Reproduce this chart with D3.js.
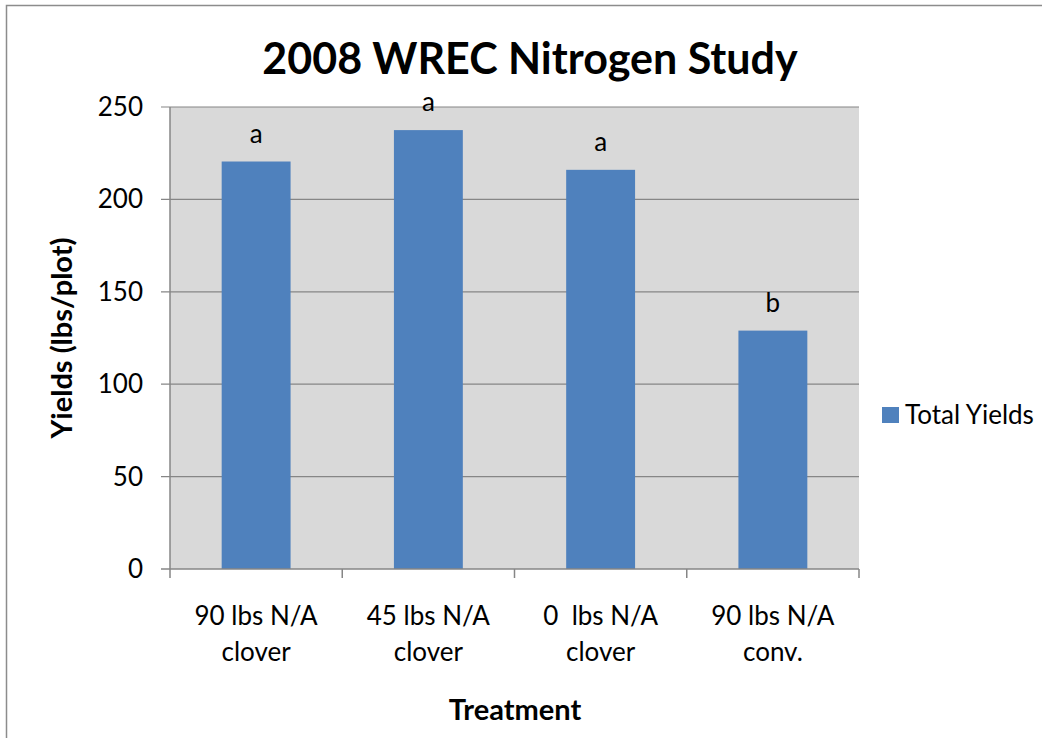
<!DOCTYPE html>
<html>
<head>
<meta charset="utf-8">
<script src="https://cdn.jsdelivr.net/npm/d3@7"></script>
<style>
  body { margin: 0; background: #fff; }
  text { font-family: Lato, "Open Sans", sans-serif; fill: #000; white-space: pre; }
</style>
</head>
<body>
<svg id="chart" width="1042" height="738"></svg>
<script>
// data
var categories = [["90 lbs N/A", "clover"], ["45 lbs N/A", "clover"], ["0  lbs N/A", "clover"], ["90 lbs N/A", "conv."]];
var yields = [220.5, 237.5, 216, 129];
var letters = ["a", "a", "a", "b"];
var yTicks = [0, 50, 100, 150, 200, 250];

var svg = d3.select('#chart');
var plotLeft = 170, plotRight = 859, plotTop = 107, plotBottom = 569;

// outer chart border (only top/left visible in frame)
svg.append('rect')
  .attr('x', 6.5).attr('y', 5.5)
  .attr('width', 1100).attr('height', 800)
  .attr('fill', '#fff').attr('stroke', '#8c8c8c').attr('stroke-width', 1.5);

var x = d3.scaleBand()
  .domain(d3.range(categories.length))
  .range([plotLeft, plotRight])
  .paddingInner(0.6).paddingOuter(0.3);

var y = d3.scaleLinear().domain([0, 250]).range([plotBottom, plotTop]);

// plot area
svg.append('rect')
  .attr('x', plotLeft).attr('y', plotTop)
  .attr('width', plotRight - plotLeft).attr('height', plotBottom - plotTop)
  .attr('fill', '#d9d9d9');

// gridlines
svg.append('g').selectAll('line')
  .data(yTicks.filter(function(d) { return d > 0; }))
  .enter().append('line')
  .attr('x1', plotLeft - 9).attr('x2', plotRight)
  .attr('y1', function(d) { return y(d); })
  .attr('y2', function(d) { return y(d); })
  .attr('stroke', '#868686').attr('stroke-width', 1.2);

// bars
svg.append('g').selectAll('rect')
  .data(yields)
  .enter().append('rect')
  .attr('x', function(d, i) { return x(i); })
  .attr('y', function(d) { return y(d); })
  .attr('width', x.bandwidth())
  .attr('height', function(d) { return y(0) - y(d); })
  .attr('fill', '#4f81bd');

// significance letters
svg.append('g').selectAll('text')
  .data(letters)
  .enter().append('text')
  .attr('x', function(d, i) { return x(i) + x.bandwidth() / 2; })
  .attr('y', function(d, i) { return y(yields[i]) - 19; })
  .attr('text-anchor', 'middle')
  .style('font-size', '26px')
  .text(function(d) { return d; });

// axis lines
svg.append('line')
  .attr('x1', plotLeft).attr('x2', plotLeft).attr('y1', plotTop).attr('y2', plotBottom)
  .attr('stroke', '#868686').attr('stroke-width', 1.5);
svg.append('line')
  .attr('x1', plotLeft - 9).attr('x2', plotRight).attr('y1', plotBottom).attr('y2', plotBottom)
  .attr('stroke', '#868686').attr('stroke-width', 1.5);

svg.append('g').selectAll('text')
  .data(yTicks)
  .enter().append('text')
  .attr('x', 143)
  .attr('y', function(d) { return y(d) + 9; })
  .attr('text-anchor', 'end')
  .style('font-size', '26px')
  .text(function(d) { return d; });

// x category ticks
var xTickPos = d3.range(categories.length + 1).map(function(i) { return plotLeft + i * (plotRight - plotLeft) / categories.length; });
svg.append('g').selectAll('line')
  .data(xTickPos)
  .enter().append('line')
  .attr('x1', function(d) { return d; }).attr('x2', function(d) { return d; })
  .attr('y1', plotBottom).attr('y2', plotBottom + 9)
  .attr('stroke', '#868686').attr('stroke-width', 1.5);

// category labels
var cat = svg.append('g').selectAll('text')
  .data(categories)
  .enter().append('text')
  .attr('text-anchor', 'middle')
  .style('font-size', '26px');
cat.each(function(d, i) {
  var t = d3.select(this);
  var cx = x(i) + x.bandwidth() / 2;
  t.append('tspan').attr('x', cx).attr('y', 625).text(d[0]);
  t.append('tspan').attr('x', cx).attr('y', 661).text(d[1]);
});

// titles
svg.append('text')
  .attr('x', 530).attr('y', 74)
  .attr('text-anchor', 'middle')
  .style('font-size', '43px').style('font-weight', 'bold')
  .text('2008 WREC Nitrogen Study');

svg.append('text')
  .attr('x', 515).attr('y', 720)
  .attr('text-anchor', 'middle')
  .style('font-size', '29px').style('font-weight', 'bold')
  .text('Treatment');

svg.append('text')
  .attr('transform', 'translate(72,338) rotate(-90)')
  .attr('text-anchor', 'middle')
  .style('font-size', '29px').style('font-weight', 'bold')
  .text('Yields (lbs/plot)');

// legend
svg.append('rect')
  .attr('x', 882).attr('y', 407).attr('width', 17).attr('height', 16)
  .attr('fill', '#4f81bd');
svg.append('text')
  .attr('x', 905).attr('y', 424)
  .style('font-size', '26px')
  .text('Total Yields');
</script>
</body>
</html>
